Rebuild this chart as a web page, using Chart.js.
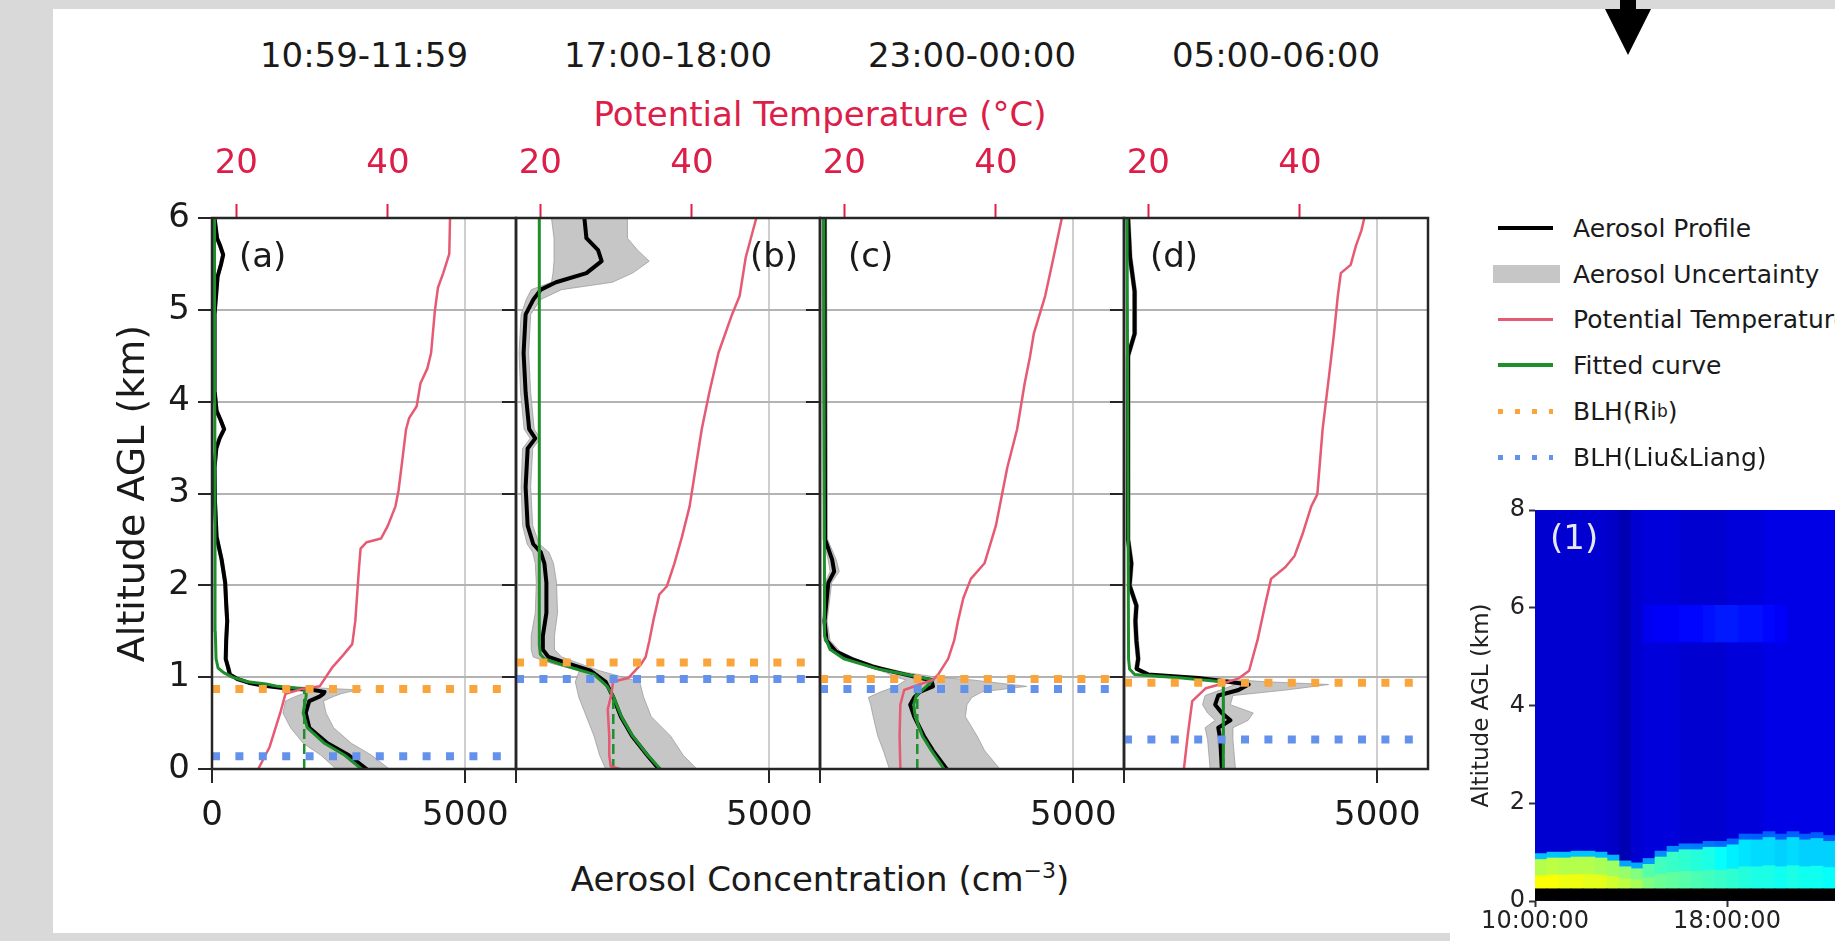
<!DOCTYPE html>
<html>
<head>
<meta charset="utf-8">
<title>Aerosol profiles and boundary layer height</title>
<script src="https://cdn.jsdelivr.net/npm/chart.js@4.4.1/dist/chart.umd.min.js"></script>
<style>
  html, body { margin: 0; padding: 0; }
  body { width: 1835px; height: 941px; overflow: hidden; position: relative; background: #d9d9d9;
         font-family: "DejaVu Sans", sans-serif; color: #1a1a1a; }
  .sheet { position: absolute; background: #fff; }
  .box { position: absolute; }
  .lbl { position: absolute; white-space: nowrap; font-size: 34px; line-height: 1; transform: translate(-50%, -50%); }
  .leg { position: absolute; left: 1488px; height: 30px; display: flex; align-items: center; font-size: 25px; white-space: nowrap; }
  .leg .sym { width: 85px; height: 30px; position: relative; }
  .leg .sym div { position: absolute; top: 50%; }
</style>
</head>
<body>
<div class="sheet" style="left:53px;top:9px;width:1782px;height:924px"></div>
<div class="sheet" style="left:1450px;top:925px;width:385px;height:16px"></div>
<svg class="box" style="left:1600px;top:0" width="60" height="60"><polygon points="20,0 36,0 36,9 51,9 28,55 5,9 20,9" fill="#000"/></svg>

<div class="lbl" style="left:364px;top:55px">10:59-11:59</div>
<div class="lbl" style="left:668px;top:55px">17:00-18:00</div>
<div class="lbl" style="left:972px;top:55px">23:00-00:00</div>
<div class="lbl" style="left:1276px;top:55px">05:00-06:00</div>
<div class="lbl" style="left:820px;top:114px;color:#dc1e48">Potential Temperature (°C)</div>
<div class="lbl" style="left:820px;top:878px">Aerosol Concentration (cm<sup style="font-size:22px">−3</sup>)</div>

<div class="box" style="left:92px;top:0"><canvas id="pa" width="464" height="941"></canvas></div>
<div class="box" style="left:396px;top:0"><canvas id="pb" width="464" height="941"></canvas></div>
<div class="box" style="left:700px;top:0"><canvas id="pc" width="464" height="941"></canvas></div>
<div class="box" style="left:1004px;top:0"><canvas id="pd" width="464" height="941"></canvas></div>
<div class="box" style="left:1440px;top:480px"><canvas id="hm" width="420" height="461"></canvas></div>

<div class="leg" style="top:213px"><div class="sym"><div style="left:10px;width:55px;height:4px;margin-top:-2px;background:#000"></div></div>Aerosol Profile</div>
<div class="leg" style="top:259px"><div class="sym"><div style="left:5px;width:67px;height:18px;margin-top:-9px;background:#c6c6c6"></div></div>Aerosol Uncertainty</div>
<div class="leg" style="top:304px"><div class="sym"><div style="left:10px;width:55px;height:3px;margin-top:-1.5px;background:#e65a73"></div></div>Potential Temperature</div>
<div class="leg" style="top:350px"><div class="sym"><div style="left:10px;width:55px;height:4px;margin-top:-2px;background:#1f8f2d"></div></div>Fitted curve</div>
<div class="leg" style="top:396px"><div class="sym"><div style="left:10px;width:55px;height:5px;margin-top:-2.5px;background:repeating-linear-gradient(to right,#faa53c 0 5px,transparent 5px 17px)"></div></div>BLH(Ri<sub style="font-size:17px">b</sub>)</div>
<div class="leg" style="top:442px"><div class="sym"><div style="left:10px;width:55px;height:5px;margin-top:-2.5px;background:repeating-linear-gradient(to right,#6491eb 0 5px,transparent 5px 17px)"></div></div>BLH(Liu&amp;Liang)</div>

<script>
// ---- shared axes ----
const altTicks = [0, 1, 2, 3, 4, 5, 6];
const concTicks = [0, 5000];
const tempTicks = [20, 40];
const panelTags = ["(a)", "(b)", "(c)", "(d)"];

// boundary layer heights (km) per panel
const blhRib = [0.87, 1.16, 0.98, 0.94];
const blhLiu = [0.14, 0.98, 0.87, 0.32];
const blhSpan = [0, 5800];
// mixed-layer value of the fit (cm-3) and its top (km)
const mixedConc = [1820, 1920, 1920, 1960];
const mixedTop = [0.85, 0.8, 0.82, 0.92];

// ---- (a) 10:59-11:59 ----
const altA = [0, 0.15, 0.28, 0.45, 0.61, 0.74, 0.79, 0.82, 0.84, 0.86, 0.88, 0.91, 0.94, 0.98, 1.03, 1.1, 1.2, 1.4, 1.61, 1.8, 2.03, 2.28, 2.53, 2.9, 3.28, 3.49, 3.6, 3.7, 3.8, 3.9, 4.1, 4.6, 4.95, 5.36, 5.5, 5.6, 5.7, 5.78, 6.0];
const aerosolA = [3050, 2700, 2280, 1920, 1850, 1920, 2130, 2200, 2220, 2000, 1430, 1000, 720, 500, 350, 320, 270, 280, 300, 280, 260, 190, 90, 60, 50, 85, 150, 240, 170, 90, 55, 50, 50, 110, 180, 220, 160, 100, 50];
const uncLowA = [2450, 2150, 1800, 1550, 1400, 1450, 1650, 1800, 1900, 1800, 1300, 900, 650, 460, 320, 290, 240, 250, 270, 250, 230, 160, 60, 30, 20, 55, 120, 210, 140, 60, 25, 20, 20, 80, 150, 190, 130, 70, 20];
const uncHighA = [3500, 3150, 2750, 2400, 2250, 2200, 2400, 2550, 2700, 2950, 2200, 1150, 800, 560, 390, 360, 300, 310, 330, 310, 290, 220, 120, 90, 80, 115, 180, 270, 200, 120, 85, 80, 80, 140, 210, 250, 190, 130, 80];
const fitAltA = [0, 0.15, 0.28, 0.45, 0.61, 0.74, 0.8, 0.85, 0.87, 0.9, 0.925, 0.95, 1.0, 1.05, 1.1, 1.2, 1.5, 2.5, 4, 6];
const fitA = [2950, 2620, 2220, 1880, 1800, 1840, 1860, 1850, 1800, 1300, 1070, 700, 400, 230, 120, 80, 65, 60, 55, 50];
const tempAltA = [0, 0.24, 0.61, 0.82, 0.87, 0.9, 1.11, 1.24, 1.36, 1.61, 2.2, 2.4, 2.47, 2.51, 2.65, 2.86, 3.03, 3.36, 3.7, 3.82, 3.95, 4.2, 4.36, 4.53, 4.99, 5.24, 5.4, 5.61, 6.0];
const tempA = [22.9, 24.4, 25.8, 26.5, 28.6, 31.0, 32.7, 34.1, 35.3, 35.7, 36.2, 36.4, 37.2, 39.1, 40.0, 41.0, 41.4, 41.9, 42.4, 42.8, 43.8, 44.3, 45.2, 45.7, 46.2, 46.6, 47.3, 48.1, 48.2];

// ---- (b) 17:00-18:00 ----
const altB = [0, 0.15, 0.36, 0.57, 0.78, 0.95, 1.07, 1.15, 1.22, 1.3, 1.45, 1.7, 2.03, 2.24, 2.36, 2.45, 2.65, 3.07, 3.49, 3.6, 3.7, 4.1, 4.53, 4.95, 5.11, 5.22, 5.3, 5.4, 5.53, 5.65, 5.78, 6.0];
const aerosolB = [2820, 2590, 2290, 2070, 1920, 1770, 1470, 1020, 640, 530, 530, 600, 600, 560, 490, 340, 230, 190, 230, 380, 260, 190, 150, 190, 340, 490, 790, 1390, 1690, 1620, 1390, 1350];
const uncLowB = [1770, 1650, 1540, 1390, 1240, 1170, 1250, 700, 340, 300, 300, 380, 400, 380, 330, 220, 130, 100, 130, 280, 160, 90, 60, 100, 200, 300, 700, 730, 750, 750, 750, 700];
const uncHighB = [3570, 3300, 3050, 2670, 2520, 2440, 1650, 1250, 900, 760, 760, 820, 800, 740, 650, 460, 330, 290, 330, 480, 360, 290, 250, 290, 480, 900, 1900, 2300, 2630, 2400, 2200, 2200];
const fitAltB = [0, 0.15, 0.36, 0.57, 0.78, 0.9, 1.03, 1.13, 1.2, 1.25, 1.35, 6];
const fitB = [2850, 2600, 2300, 2080, 1930, 1800, 1540, 940, 560, 480, 460, 460];
const tempAltB = [0, 0.03, 0.15, 0.36, 0.65, 0.82, 0.95, 0.99, 1.13, 1.22, 1.4, 1.61, 1.9, 1.99, 2.24, 2.53, 2.86, 3.28, 3.7, 4.1, 4.53, 4.95, 5.15, 5.57, 6.0];
const tempB = [30.5, 29.3, 29.1, 29.1, 28.9, 29.4, 29.6, 31.6, 33.2, 33.9, 34.4, 34.9, 35.7, 36.7, 37.7, 38.7, 39.7, 40.5, 41.3, 42.3, 43.5, 45.3, 46.3, 47.1, 48.5];

// ---- (c) 23:00-00:00 ----
const altC = [0, 0.2, 0.36, 0.57, 0.7, 0.78, 0.84, 0.9, 0.97, 1.0, 1.05, 1.11, 1.2, 1.28, 1.4, 1.61, 2.03, 2.15, 2.28, 2.5, 6];
const aerosolC = [2500, 2230, 2050, 1860, 1780, 1860, 1970, 2230, 2200, 1900, 1520, 1070, 620, 316, 130, 90, 165, 280, 240, 100, 90];
const uncLowC = [1370, 1250, 1140, 1050, 1000, 955, 1200, 1500, 1700, 1500, 1300, 950, 550, 250, 80, 50, 100, 200, 160, 60, 50];
const uncHighC = [3550, 3250, 3100, 2870, 2900, 3000, 3200, 4080, 3000, 2300, 1700, 1200, 700, 400, 200, 140, 230, 380, 320, 150, 130];
const fitAltC = [0, 0.2, 0.36, 0.57, 0.7, 0.8, 0.9, 0.97, 1.0, 1.05, 1.09, 1.2, 1.3, 1.45, 6];
const fitC = [2450, 2200, 2020, 1880, 1850, 1900, 2100, 2230, 1970, 1500, 1140, 470, 200, 90, 75];
const tempAltC = [0, 0.36, 0.7, 0.86, 0.92, 0.97, 1.03, 1.2, 1.4, 1.61, 1.86, 2.07, 2.24, 2.65, 3.28, 3.7, 4.2, 4.49, 4.74, 5.15, 5.57, 6.0];
const tempC = [27.4, 27.3, 27.4, 27.9, 29.9, 31.7, 32.4, 33.7, 34.5, 35.0, 35.7, 36.7, 38.5, 40.0, 41.5, 42.8, 43.8, 44.5, 45.0, 46.5, 47.6, 48.7];

// ---- (d) 05:00-06:00 ----
const altD = [0, 0.32, 0.45, 0.53, 0.61, 0.7, 0.8, 0.86, 0.92, 0.95, 0.99, 1.03, 1.09, 1.2, 1.4, 1.61, 1.78, 2.0, 2.24, 2.5, 4.5, 4.74, 5.2, 5.57, 6];
const aerosolD = [1930, 1900, 1860, 2100, 1930, 1800, 1860, 2260, 2460, 2060, 1470, 475, 250, 280, 245, 225, 245, 110, 145, 80, 80, 210, 210, 120, 80];
const uncLowD = [1700, 1650, 1600, 1800, 1650, 1550, 1600, 1900, 2200, 1800, 1300, 420, 210, 240, 205, 185, 205, 70, 105, 40, 40, 170, 170, 80, 40];
const uncHighD = [2200, 2150, 2150, 2450, 2550, 2100, 2150, 3200, 4040, 2800, 1700, 540, 290, 320, 285, 265, 285, 150, 185, 120, 120, 250, 250, 160, 120];
const fitAltD = [0, 0.9, 0.95, 0.99, 1.03, 1.09, 1.2, 6];
const fitD = [1960, 1960, 1930, 1140, 210, 110, 90, 60];
const tempAltD = [0, 0.36, 0.74, 0.88, 0.94, 0.99, 1.07, 1.4, 1.82, 2.07, 2.2, 2.32, 2.57, 2.86, 2.99, 3.7, 4.32, 4.74, 5.15, 5.4, 5.49, 5.7, 5.86, 6.0];
const tempD = [24.7, 25.2, 25.8, 27.6, 30.2, 32.0, 33.3, 34.4, 35.5, 36.2, 38.1, 39.3, 40.4, 41.5, 42.3, 43.0, 43.9, 44.5, 45.0, 45.4, 46.7, 47.4, 48.1, 48.5];

// ---- lidar time-height section (1) ----
const hmTime = [10.25, 10.75, 11.25, 11.75, 12.25, 12.75, 13.25, 13.75, 14.25, 14.75, 15.25, 15.75, 16.25, 16.75, 17.25, 17.75, 18.25, 18.75, 19.25, 19.75, 20.25, 20.75, 21.25, 21.75, 22.25, 22.75];
const hmBlTop = [0.85, 0.88, 0.88, 0.9, 0.9, 0.88, 0.82, 0.7, 0.66, 0.75, 0.9, 1.0, 1.05, 1.05, 1.1, 1.1, 1.15, 1.25, 1.25, 1.3, 1.25, 1.3, 1.25, 1.28, 1.22, 1.25];
const hmBlLow = [0.62, 0.62, 0.61, 0.61, 0.6, 0.6, 0.58, 0.56, 0.54, 0.5, 0.48, 0.47, 0.46, 0.45, 0.44, 0.43, 0.42, 0.41, 0.4, 0.4, 0.39, 0.4, 0.39, 0.39, 0.38, 0.38];
const hmBlHigh = [0.55, 0.56, 0.55, 0.55, 0.55, 0.54, 0.53, 0.52, 0.5, 0.46, 0.44, 0.43, 0.42, 0.41, 0.4, 0.38, 0.36, 0.35, 0.34, 0.34, 0.33, 0.34, 0.33, 0.33, 0.33, 0.33];
const hmFree = [0.08, 0.08, 0.08, 0.08, 0.08, 0.08, 0.07, 0.05, 0.08, 0.09, 0.09, 0.09, 0.08, 0.08, 0.08, 0.08, 0.09, 0.09, 0.09, 0.1, 0.1, 0.1, 0.1, 0.1, 0.1, 0.1];
const hmLayer = [0, 0, 0, 0, 0, 0, 0, 0, 0, 0.11, 0.12, 0.12, 0.13, 0.13, 0.14, 0.15, 0.15, 0.14, 0.14, 0.13, 0.12, 0, 0, 0, 0, 0];
const hmGround = 0.25;
const hmLayerRange = [5.3, 6.05];
const hmTimeTicks = [10, 18];
const hmAltTicks = [0, 2, 4, 6, 8];

// ---- styling ----
Chart.defaults.font.family = '"DejaVu Sans", sans-serif';
Chart.defaults.color = '#1a1a1a';
const INK = '#262626';
const CRIMSON = '#dc1e48';
const GREEN = '#1f8f2d';

const frame = {
  id: 'frame',
  afterDatasetsDraw(chart) {
    const { ctx, chartArea: a } = chart;
    ctx.save();
    ctx.strokeStyle = INK;
    ctx.lineWidth = 2.5;
    ctx.strokeRect(a.left, a.top, a.right - a.left, a.bottom - a.top);
    ctx.restore();
  }
};

const panelTag = {
  id: 'panelTag',
  afterDatasetsDraw(chart, args, opts) {
    const { ctx, chartArea: a } = chart;
    ctx.save();
    ctx.font = '34px "DejaVu Sans"';
    ctx.fillStyle = opts.color || '#1a1a1a';
    ctx.textBaseline = 'middle';
    ctx.textAlign = opts.align;
    const x = opts.align === 'right' ? a.right - opts.dx : a.left + opts.dx;
    ctx.fillText(opts.text, x, a.top + opts.dy);
    ctx.restore();
  }
};

const pts = (vals, alts) => vals.map((v, k) => ({ x: v, y: alts[k] }));
const fixTicks = (list) => (scale) => { scale.ticks = list.map((v) => ({ value: v })); };
const tagPlace = [['left', 27], ['right', 22], ['left', 28], ['left', 26]];

function makePanel(id, i, p) {
  const datasets = [
    { label: 'BLH(Liu&Liang)', data: [{ x: blhSpan[0], y: blhLiu[i] }, { x: blhSpan[1], y: blhLiu[i] }],
      borderColor: '#6491eb', borderWidth: 8, borderDash: [8, 15.4], borderCapStyle: 'butt' },
    { label: 'BLH(Rib)', data: [{ x: blhSpan[0], y: blhRib[i] }, { x: blhSpan[1], y: blhRib[i] }],
      borderColor: '#faa53c', borderWidth: 8, borderDash: [8, 15.4], borderCapStyle: 'butt' },
    { label: 'Potential Temperature', data: pts(p.temp, p.tempAlt), xAxisID: 'xT',
      borderColor: '#e65a73', borderWidth: 2.5 },
    { label: 'Mixed layer', data: [{ x: mixedConc[i], y: 0 }, { x: mixedConc[i], y: mixedTop[i] }],
      borderColor: GREEN, borderWidth: 2.5, borderDash: [10, 5], borderCapStyle: 'butt' },
    { label: 'Fitted curve', data: pts(p.fit, p.fitAlt), borderColor: GREEN, borderWidth: 3 },
    { label: 'Aerosol Profile', data: pts(p.aerosol, p.alt), borderColor: '#000', borderWidth: 4 },
    { label: 'Uncertainty low', data: pts(p.low, p.alt), borderColor: 'rgba(150,150,150,0.7)', borderWidth: 1 },
    { label: 'Aerosol Uncertainty', data: pts(p.high, p.alt), borderColor: 'rgba(150,150,150,0.7)', borderWidth: 1,
      fill: '-1', backgroundColor: '#c6c6c6' }
  ];
  return new Chart(document.getElementById(id), {
    type: 'line',
    data: { datasets },
    plugins: [frame, panelTag],
    options: {
      indexAxis: 'y',
      responsive: false,
      animation: false,
      events: [],
      layout: { padding: { left: 0, right: 40, top: 0, bottom: 0 } },
      elements: {
        point: { radius: 0, hoverRadius: 0 },
        line: { tension: 0, borderJoinStyle: 'round', borderCapStyle: 'round', fill: false }
      },
      plugins: {
        legend: { display: false },
        tooltip: { enabled: false },
        panelTag: { text: panelTags[i], align: tagPlace[i][0], dx: tagPlace[i][1], dy: 40 }
      },
      scales: {
        x: {
          type: 'linear', position: 'bottom', min: 0, max: 6000,
          afterBuildTicks: fixTicks(concTicks),
          ticks: { callback: (v) => (i > 0 && v === 0 ? '' : String(v)), font: { size: 34 },
                   padding: 13, maxRotation: 0, autoSkip: false },
          grid: { color: '#cfcfcf', lineWidth: 2, tickColor: INK, tickLength: 14, tickWidth: 2 },
          border: { display: false },
          afterFit: (s) => { s.height = 172; }
        },
        xT: {
          type: 'linear', position: 'top', min: 16.8, max: 56.9,
          afterBuildTicks: fixTicks(tempTicks),
          ticks: { color: CRIMSON, font: { size: 34 }, padding: 19, maxRotation: 0, autoSkip: false },
          grid: { drawOnChartArea: false, tickColor: CRIMSON, tickLength: 14, tickWidth: 2 },
          border: { display: false },
          afterFit: (s) => { s.height = 218; }
        },
        y: {
          type: 'linear', min: 0, max: 6,
          afterBuildTicks: fixTicks(altTicks),
          ticks: { callback: (v) => (i === 0 ? String(v) : ''), font: { size: 34 }, padding: 8, autoSkip: false },
          grid: { color: '#b3b3b3', lineWidth: 2, tickColor: INK, tickLength: 14, tickWidth: 2 },
          border: { display: false },
          title: { display: i === 0, text: 'Altitude AGL (km)', font: { size: 38 }, padding: { top: 19, bottom: 0 } },
          afterFit: (s) => { s.width = 120; }
        }
      }
    }
  });
}

makePanel('pa', 0, { alt: altA, aerosol: aerosolA, low: uncLowA, high: uncHighA, fitAlt: fitAltA, fit: fitA, tempAlt: tempAltA, temp: tempA });
makePanel('pb', 1, { alt: altB, aerosol: aerosolB, low: uncLowB, high: uncHighB, fitAlt: fitAltB, fit: fitB, tempAlt: tempAltB, temp: tempB });
makePanel('pc', 2, { alt: altC, aerosol: aerosolC, low: uncLowC, high: uncHighC, fitAlt: fitAltC, fit: fitC, tempAlt: tempAltC, temp: tempC });
makePanel('pd', 3, { alt: altD, aerosol: aerosolD, low: uncLowD, high: uncHighD, fitAlt: fitAltD, fit: fitD, tempAlt: tempAltD, temp: tempD });

// jet colour map for normalised backscatter
function jet(v) {
  const c = (t) => Math.round(255 * Math.max(0, Math.min(1, 1.5 - Math.abs(t))));
  return `rgb(${c(4 * v - 3)},${c(4 * v - 2)},${c(4 * v - 1)})`;
}

const cell = (lo, hi) => hmTime.map((t, k) => ({ x: t, y: [lo(k), hi(k)] }));
new Chart(document.getElementById('hm'), {
  type: 'bar',
  data: {
    datasets: [
      { label: 'ground', data: cell(() => 0, () => hmGround), backgroundColor: '#000' },
      { label: 'bl low', data: cell(() => hmGround, (k) => hmGround + 0.45 * (hmBlTop[k] - hmGround)),
        backgroundColor: hmBlLow.map(jet) },
      { label: 'bl', data: cell(() => hmGround, (k) => hmBlTop[k]), backgroundColor: hmBlHigh.map(jet) },
      { label: 'bl top', data: cell((k) => hmBlTop[k], (k) => hmBlTop[k] + 0.12),
        backgroundColor: hmBlHigh.map((v, k) => jet((v + hmFree[k]) / 2)) },
      { label: 'layer', data: hmTime.map((t, k) => ({ x: t, y: hmLayer[k] > 0 ? hmLayerRange : null })),
        backgroundColor: hmLayer.map(jet) },
      { label: 'free', data: cell(() => 0, () => 8), backgroundColor: hmFree.map(jet) }
    ]
  },
  plugins: [panelTag],
  options: {
    responsive: false,
    animation: false,
    events: [],
    layout: { padding: { left: 0, right: 13, top: 30, bottom: 0 } },
    datasets: { bar: { grouped: false, barPercentage: 1, categoryPercentage: 1, borderWidth: 0 } },
    plugins: {
      legend: { display: false },
      tooltip: { enabled: false },
      panelTag: { text: '(1)', align: 'left', dx: 15, dy: 30, color: '#e6e6f2' }
    },
    scales: {
      x: {
        type: 'linear', min: 10, max: 23, offset: false,
        afterBuildTicks: fixTicks(hmTimeTicks),
        ticks: { callback: (v) => `${String(v).padStart(2, '0')}:00:00`, font: { size: 24 }, padding: 0,
                 maxRotation: 0, autoSkip: false, color: '#222' },
        grid: { offset: false, drawOnChartArea: false, tickLength: 6, tickColor: '#333', tickWidth: 2 },
        border: { display: false },
        afterFit: (s) => { s.height = 40; }
      },
      y: {
        min: 0, max: 8,
        afterBuildTicks: fixTicks(hmAltTicks),
        ticks: { font: { size: 24 }, padding: 4, color: '#222' },
        grid: { drawOnChartArea: false, tickLength: 6, tickColor: '#333', tickWidth: 2 },
        border: { display: false },
        title: { display: true, text: 'Altitude AGL (km)', font: { size: 23 }, color: '#222', padding: { top: 28, bottom: 0 } },
        afterFit: (s) => { s.width = 95; }
      }
    }
  }
});
</script>
</body>
</html>
